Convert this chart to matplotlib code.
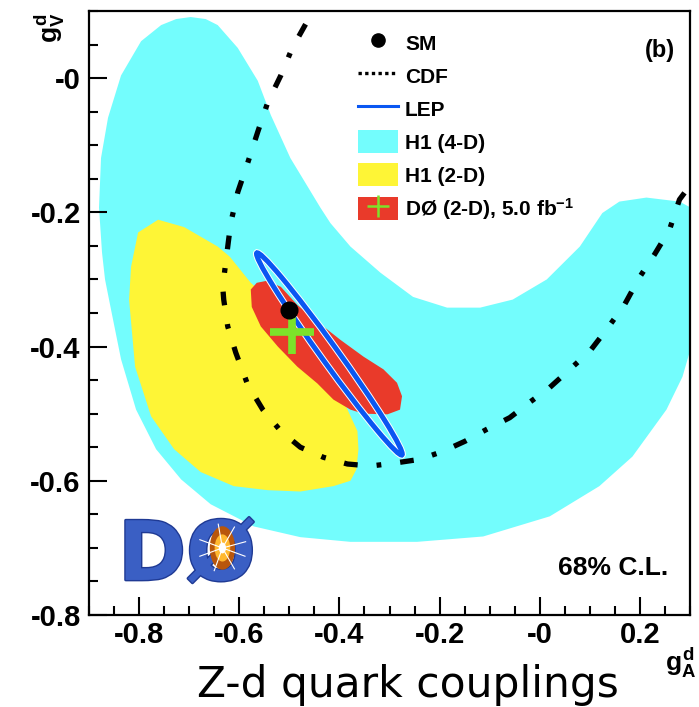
import numpy as np
import matplotlib
matplotlib.use("Agg")
import matplotlib.pyplot as plt
from matplotlib.patches import Polygon, Ellipse, Patch
from matplotlib.lines import Line2D
from matplotlib.ticker import FixedLocator, FixedFormatter, MultipleLocator
import matplotlib.patheffects as pe

plt.rcParams['font.family'] = ['Liberation Sans', 'DejaVu Sans']
plt.rcParams['mathtext.fontset'] = 'custom'
plt.rcParams['mathtext.rm'] = 'Liberation Sans:bold'
plt.rcParams['mathtext.it'] = 'Liberation Sans:bold'
plt.rcParams['mathtext.bf'] = 'Liberation Sans:bold'

# H1 (4-D) 68% region, outline in (g_A^d, g_V^d)
h1_4d_ga = [-0.697, -0.726, -0.756, -0.796, -0.836, -0.862, -0.876, -0.880, -0.874,
            -0.868, -0.856, -0.836, -0.806, -0.766, -0.716, -0.657, -0.571, -0.478,
            -0.378, -0.245, -0.113, 0.020, 0.119, 0.185, 0.253, 0.285, 0.299, 0.314,
            0.328, 0.318, 0.299, 0.279, 0.213, 0.159, 0.125, 0.080, 0.014, -0.054,
            -0.119, -0.185, -0.253, -0.318, -0.378, -0.418, -0.438, -0.468, -0.498,
            -0.537, -0.563, -0.603, -0.643, -0.667]
h1_4d_gv = [0.091, 0.088, 0.079, 0.055, 0.004, -0.059, -0.119, -0.193, -0.260,
            -0.300, -0.345, -0.419, -0.494, -0.553, -0.598, -0.635, -0.668, -0.684,
            -0.691, -0.691, -0.683, -0.653, -0.608, -0.564, -0.494, -0.445, -0.409, -0.390,
            -0.315, -0.226, -0.192, -0.184, -0.178, -0.184, -0.201, -0.251, -0.300, -0.330,
            -0.342, -0.342, -0.326, -0.290, -0.251, -0.216, -0.193, -0.156, -0.119,
            -0.055, -0.004, 0.045, 0.079, 0.088]

# H1 (2-D) 68% region
h1_2d_ga = [-0.762, -0.802, -0.816, -0.820, -0.808, -0.776, -0.730, -0.677, -0.611,
            -0.543, -0.478, -0.412, -0.378, -0.366, -0.362, -0.364, -0.398, -0.478,
            -0.557, -0.577, -0.619, -0.643, -0.710]
h1_2d_gv = [-0.211, -0.230, -0.281, -0.330, -0.430, -0.504, -0.553, -0.587, -0.608,
            -0.614, -0.616, -0.608, -0.600, -0.583, -0.553, -0.526, -0.471, -0.390,
            -0.318, -0.305, -0.266, -0.251, -0.222]

# D0 (2-D) 68% region, 5.0 fb^-1
d0_ga = [-0.577, -0.565, -0.545, -0.517, -0.484, -0.444, -0.398, -0.352, -0.312,
         -0.285, -0.275, -0.279, -0.304, -0.352, -0.378, -0.412, -0.444, -0.484,
         -0.523, -0.557, -0.575]
d0_gv = [-0.315, -0.305, -0.302, -0.311, -0.338, -0.363, -0.390, -0.415, -0.434,
         -0.454, -0.474, -0.494, -0.501, -0.500, -0.494, -0.479, -0.455, -0.430,
         -0.400, -0.370, -0.341]

# CDF contour (open curve)
cdf_ga = [0.289, 0.279, 0.259, 0.229, 0.199, 0.169, 0.133, 0.100, 0.060, 0.020,
          -0.020, -0.060, -0.105, -0.149, -0.193, -0.239, -0.293, -0.338, -0.384,
          -0.432, -0.478, -0.517, -0.553, -0.583, -0.607, -0.623, -0.631, -0.633,
          -0.625, -0.617, -0.603, -0.583, -0.563, -0.543, -0.517, -0.494, -0.464]
cdf_gv = [-0.171, -0.181, -0.226, -0.263, -0.297, -0.338, -0.375, -0.407, -0.434,
          -0.461, -0.483, -0.506, -0.523, -0.541, -0.556, -0.568, -0.574, -0.578,
          -0.575, -0.565, -0.550, -0.526, -0.494, -0.457, -0.409, -0.370, -0.330,
          -0.311, -0.263, -0.216, -0.170, -0.126, -0.080, -0.036, 0.004, 0.045, 0.085]

# LEP ellipse: centre, full axes, orientation
lep_center = (-0.420, -0.411)
lep_width = 0.418
lep_height = 0.030
lep_angle = -46.0

sm_point = (-0.500, -0.346)
d0_fit = (-0.495, -0.378)

x_ticks = [-0.8, -0.6, -0.4, -0.2, 0.0, 0.2]
x_ticklabels = ['-0.8', '-0.6', '-0.4', '-0.2', '-0', '0.2']
y_ticks = [-0.8, -0.6, -0.4, -0.2, 0.0]
y_ticklabels = ['-0.8', '-0.6', '-0.4', '-0.2', '-0']

c_cyan = '#73fdfd'
c_yellow = '#fef536'
c_red = '#e93a2a'
c_blue = '#0a57f2'
c_green = '#7de22a'

fig = plt.figure(figsize=(6.99, 7.07), dpi=100)
ax = fig.add_axes([89 / 699, 1 - 615 / 707, 601 / 699, 604 / 707])
ax.set_xlim(-0.9, 0.3)
ax.set_ylim(-0.8, 0.1)

ax.add_patch(Polygon(np.column_stack([h1_4d_ga, h1_4d_gv]), closed=True,
                     fc=c_cyan, ec='none', zorder=1))
ax.add_patch(Polygon(np.column_stack([h1_2d_ga, h1_2d_gv]), closed=True,
                     fc=c_yellow, ec='none', zorder=2))
ax.add_patch(Polygon(np.column_stack([d0_ga, d0_gv]), closed=True,
                     fc=c_red, ec='none', zorder=3))

ax.plot(cdf_ga, cdf_gv, color='black', lw=3.8, ls=(0, (2.6, 3.6, 0.9, 3.6)),
        dash_capstyle='butt', zorder=4)

ax.add_patch(Ellipse(lep_center, lep_width, lep_height, angle=lep_angle,
                     fc='none', ec=c_blue, lw=3.6, zorder=5,
                     path_effects=[pe.Stroke(linewidth=5.0, foreground='white'),
                                   pe.Normal()]))

ax.plot(*d0_fit, marker='+', ms=31, mew=5.5, color=c_green, ls='', zorder=6)
ax.plot(*sm_point, marker='o', ms=12, color='black', ls='', zorder=7)

# axes frame and ticks
for s in ax.spines.values():
    s.set_linewidth(1.6)
ax.xaxis.set_major_locator(FixedLocator(x_ticks))
ax.xaxis.set_major_formatter(FixedFormatter(x_ticklabels))
ax.yaxis.set_major_locator(FixedLocator(y_ticks))
ax.yaxis.set_major_formatter(FixedFormatter(y_ticklabels))
ax.xaxis.set_minor_locator(MultipleLocator(0.05))
ax.yaxis.set_minor_locator(MultipleLocator(0.05))
ax.tick_params(which='both', direction='in', top=False, right=False, width=1.5)
ax.tick_params(which='major', length=13)
ax.tick_params(which='minor', length=6.5)
ax.tick_params(axis='x', which='major', pad=4)
ax.tick_params(axis='y', which='major', pad=6)
for lab in ax.get_xticklabels() + ax.get_yticklabels():
    lab.set_fontsize(21)
    lab.set_fontweight('bold')

# legend
h_sm = Line2D([], [], marker='o', ls='', color='black', ms=9.5)
h_cdf = Line2D([], [], color='black', lw=2.4, ls=(0, (1, 1)), dash_capstyle='butt')
h_lep = Line2D([], [], color=c_blue, lw=2.2)
h_h14 = Patch(fc=c_cyan, ec='none')
h_h12 = Patch(fc=c_yellow, ec='none')
h_d0 = (Patch(fc=c_red, ec='none'),
        Line2D([], [], marker='+', ls='', color=c_green, ms=16, mew=1.8))
ax.legend([h_sm, h_cdf, h_lep, h_h14, h_h12, h_d0],
          ['SM', 'CDF', 'LEP', 'H1 (4-D)', 'H1 (2-D)', r'DØ (2-D), 5.0 fb$^{-1}$'],
          loc='upper left', bbox_to_anchor=(358 / 699, 1 - 31 / 707),
          bbox_transform=fig.transFigure, frameon=False, borderpad=0, borderaxespad=0,
          prop={'weight': 'bold', 'size': 15}, handlelength=1.92, handleheight=1.35,
          handletextpad=0.34, labelspacing=0.46, numpoints=1)

ax.text(675 / 699, 1 - 50 / 707, '(b)', transform=fig.transFigure, ha='right',
        va='center', fontsize=17, fontweight='bold')
ax.text(668 / 699, 1 - 568 / 707, '68% C.L.', transform=fig.transFigure, ha='right',
        va='center', fontsize=19, fontweight='bold')

# axis titles
fig.text(50 / 699, 1 - 28 / 707, r'$g^{d}_{V}$', rotation=90, ha='center',
         va='center', fontsize=19)
fig.text(680 / 699, 1 - 663 / 707, r'$g^{d}_{A}$', ha='center', va='center',
         fontsize=19)
fig.text(408 / 699, 10 / 707, 'Z-d quark couplings', ha='center', va='baseline',
         fontsize=30.5, family='DejaVu Sans')

# experiment logo
ax.text(0.163, 0.058, 'DØ', transform=ax.transAxes, fontsize=59,
        family='DejaVu Sans', fontweight='bold', color='#3a5fc4', ha='center',
        va='baseline', zorder=8,
        path_effects=[pe.withStroke(linewidth=2, foreground='#1f3a94')])
logo_c = (0.222, 0.111)
ax.add_patch(Ellipse(logo_c, 0.042, 0.072, transform=ax.transAxes,
                     fc='#b8560c', ec='none', zorder=9))
ax.add_patch(Ellipse(logo_c, 0.026, 0.045, transform=ax.transAxes,
                     fc='#ffb830', ec='none', zorder=9))
ax.add_patch(Ellipse(logo_c, 0.012, 0.018, transform=ax.transAxes,
                     fc='white', ec='none', zorder=10))
for ang in np.deg2rad([15, 60, 100, 160, 200, 250, 300, 340]):
    ax.plot([logo_c[0], logo_c[0] + 0.04 * np.cos(ang)],
            [logo_c[1], logo_c[1] + 0.04 * np.sin(ang)],
            transform=ax.transAxes, color='white', lw=0.8, zorder=10, clip_on=False)

fig.savefig('out.png', dpi=100)
